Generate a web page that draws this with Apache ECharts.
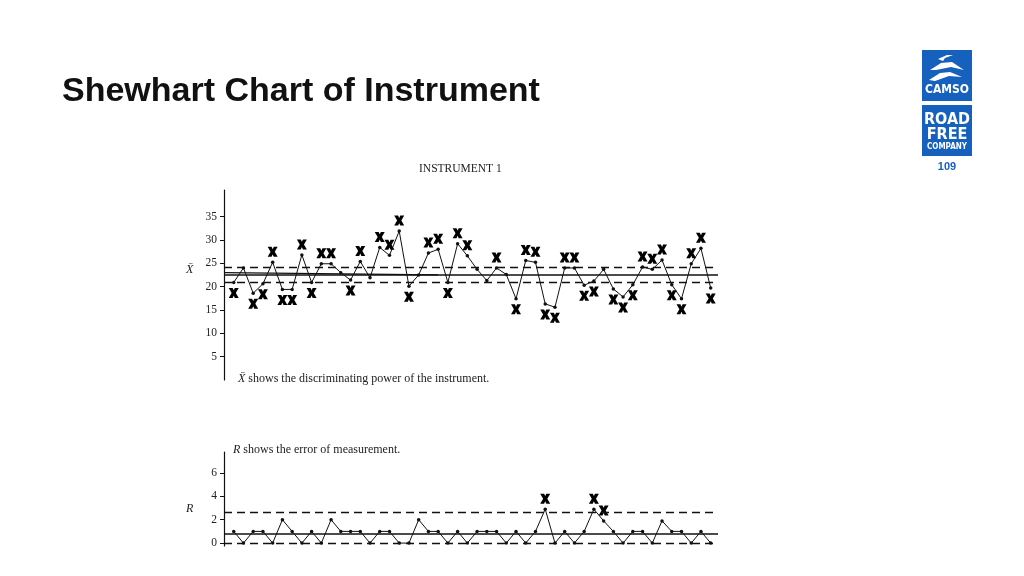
<!DOCTYPE html>
<html>
<head>
<meta charset="utf-8">
<style>
html,body{margin:0;padding:0;background:#fff;}
#chart{width:1024px;height:576px;}
</style>
<script src="https://cdn.jsdelivr.net/npm/echarts@6/dist/echarts.min.js"></script>
</head>
<body>
<div id="chart"></div>
<script>
// ---- data ----
const xbarValues = [20.9, 24.0, 18.6, 20.6, 25.2, 19.4, 19.4, 26.8, 20.9, 24.9,
  24.9, 23.0, 21.4, 25.4, 21.9, 28.4, 26.7, 31.9, 20.1, 22.5,
  27.2, 28.0, 20.9, 29.2, 26.6, 23.7, 21.3, 24.0, 22.6, 17.4,
  25.6, 25.2, 16.3, 15.6, 24.0, 24.0, 20.3, 21.2, 23.7, 19.5,
  17.8, 20.4, 24.2, 23.7, 25.7, 20.4, 17.4, 24.9, 28.2, 19.7];
const xbarFlags = ['d','','d','d','u','d','d','u','d','u',
  'u','','d','u','','u','u','u','d','',
  'u','u','d','u','u','','','u','','d',
  'u','u','d','d','u','u','d','d','','d',
  'd','d','u','u','u','d','d','u','u','d'];
const xbarLimits = {ucl: 24.1, cl: 22.5, lcl: 21.0};
const xbarCenterOld = [23.0, 22.5]; // short slanted centre line at the left
const xbarTicks = [5, 10, 15, 20, 25, 30, 35];

const rValues = [1,0,1,1,0,2,1,0,1,0,2,1,1,1,0,1,1,0,0,2,1,1,0,1,
  0,1,1,1,0,1,0,1,2.9,0,1,0,1,2.9,1.9,1,0,1,1,0,1.9,1,1,0,1,0];
const rFlags = rValues.map((v,i)=> (i===32||i===37||i===38) ? 'u' : '');
const rLimits = {ucl: 2.65, cl: 0.8, lcl: 0};
const rTicks = [0, 2, 4, 6];

// ---- styles ----
const INK = '#111';
const SERIF = "'Liberation Serif','DejaVu Serif',serif";
const BLUE = '#1561bd';
const XPATH = 'path://M0,0 L3.9,0 L5,2.4 L6.1,0 L10,0 L7.1,5 L10,10 L6.1,10 L5,7.6 L3.9,10 L0,10 L2.9,5 Z';

function lineData(vals){ return vals.map((v,i)=>[i+1, v]); }
function flagData(vals, flags){
  const out = [];
  vals.forEach((v,i)=>{
    if (flags[i]) out.push({value:[i+1, v], symbolOffset:[0, flags[i]==='u' ? -10.5 : 10.5]});
  });
  return out;
}
function limitLines(lim, extra){
  const dashed = {type:[8,5], width:1.4, color:INK};
  const solid = {type:'solid', width:1.6, color:INK};
  const d = [
    {yAxis: lim.ucl, lineStyle: dashed},
    {yAxis: lim.cl, lineStyle: solid},
    {yAxis: lim.lcl, lineStyle: dashed}
  ];
  if (extra) d.push(extra);
  return {silent:true, symbol:'none', label:{show:false}, animation:false, data:d};
}

const chart = echarts.init(document.getElementById('chart'), null, {renderer:'canvas'});
const option = {
  animation: false,
  backgroundColor: '#fff',
  grid: [
    {left:224, right:306, top:190, height:190},
    {left:224, right:306, top:452, height:94}
  ],
  xAxis: [
    {type:'value', gridIndex:0, min:0, max:50.75, show:false},
    {type:'value', gridIndex:1, min:0, max:50.75, show:false}
  ],
  yAxis: [
    {type:'value', gridIndex:0, min:0, max:40.7,
      axisLine:{show:true, lineStyle:{color:INK, width:1.2}},
      axisTick:{show:true, length:4, customValues: xbarTicks, lineStyle:{color:INK}},
      axisLabel:{customValues: xbarTicks, color:'#222', fontFamily:SERIF, fontSize:11.5, margin:7},
      splitLine:{show:false}},
    {type:'value', gridIndex:1, min:-0.25, max:7.8,
      axisLine:{show:true, lineStyle:{color:INK, width:1.2}},
      axisTick:{show:true, length:4, customValues: rTicks, lineStyle:{color:INK}},
      axisLabel:{customValues: rTicks, color:'#222', fontFamily:SERIF, fontSize:11.5, margin:7},
      splitLine:{show:false}}
  ],
  series: [
    {type:'line', xAxisIndex:0, yAxisIndex:0, data: lineData(xbarValues),
      symbol:'circle', symbolSize:3.5, lineStyle:{color:INK, width:1}, itemStyle:{color:INK},
      markLine: limitLines(xbarLimits, [{coord:[0, xbarCenterOld[0]], lineStyle:{type:'solid', width:1.2, color:INK}}, {coord:[22, xbarCenterOld[1]]}]),
      z:3},
    {type:'scatter', xAxisIndex:0, yAxisIndex:0, data: flagData(xbarValues, xbarFlags),
      symbol: XPATH, symbolSize:[10,10], itemStyle:{color:'#000', opacity:1}, z:4},
    {type:'line', xAxisIndex:1, yAxisIndex:1, data: lineData(rValues),
      symbol:'circle', symbolSize:3.5, lineStyle:{color:INK, width:1}, itemStyle:{color:INK},
      markLine: limitLines(rLimits), z:3},
    {type:'scatter', xAxisIndex:1, yAxisIndex:1, data: flagData(rValues, rFlags),
      symbol: XPATH, symbolSize:[10,10], itemStyle:{color:'#000', opacity:1}, z:4}
  ],
  graphic: [
    {type:'text', left:62, top:75, style:{text:'Shewhart Chart of Instrument', fill:'#111',
      font:"bold 34px 'Liberation Sans', Arial, sans-serif"}},
    {type:'text', left:419, top:163, style:{text:'INSTRUMENT 1', fill:'#222',
      font:"11.5px " + SERIF}},
    {type:'text', left:186, top:264, style:{text:'X\u0304', fill:'#222', font:"italic 12px " + SERIF}},
    {type:'text', left:186, top:503, style:{text:'R', fill:'#222', font:"italic 12px " + SERIF}},
    {type:'text', left:238, top:373, style:{rich:{i:{fontStyle:'italic', fontFamily:SERIF, fontSize:12, fill:'#222'}, n:{fontFamily:SERIF, fontSize:12, fill:'#222'}},
      text:'{i|X\u0304}{n| shows the discriminating power of the instrument.}'}},
    {type:'text', left:233, top:444, style:{rich:{i:{fontStyle:'italic', fontFamily:SERIF, fontSize:12, fill:'#222'}, n:{fontFamily:SERIF, fontSize:12, fill:'#222'}},
      text:'{i|R}{n| shows the error of measurement.}'}},
    // logo
    {type:'rect', shape:{x:922, y:50, width:50, height:51}, style:{fill:BLUE}},
    {type:'rect', shape:{x:922, y:105, width:50, height:51}, style:{fill:BLUE}},
    {type:'polygon', shape:{points:[[938,59],[947,55],[953,55],[945,58],[943,61]]}, style:{fill:'#fff'}},
    {type:'polygon', shape:{points:[[930,70],[941,63],[952,62],[964,70],[951,67],[936,70]]}, style:{fill:'#fff'}},
    {type:'polygon', shape:{points:[[929,80],[940,73],[950,72],[962,77],[949,76],[935,81]]}, style:{fill:'#fff'}},
    {type:'text', x:947, y:90, style:{text:'CAMSO', fill:'#fff', align:'center', verticalAlign:'middle',
      font:"bold 12px 'Liberation Sans Narrow','DejaVu Sans Condensed',sans-serif"}},
    {type:'text', x:947, y:120, style:{text:'ROAD', fill:'#fff', align:'center', verticalAlign:'middle',
      font:"bold 16px 'Liberation Sans Narrow','DejaVu Sans Condensed',sans-serif"}},
    {type:'text', x:947, y:135, style:{text:'FREE', fill:'#fff', align:'center', verticalAlign:'middle',
      font:"bold 16px 'Liberation Sans Narrow','DejaVu Sans Condensed',sans-serif"}},
    {type:'text', x:947, y:147, style:{text:'COMPANY', fill:'#fff', align:'center', verticalAlign:'middle',
      font:"bold 8px 'Liberation Sans Narrow','DejaVu Sans Condensed',sans-serif"}},
    {type:'text', x:947, y:167, style:{text:'109', fill:BLUE, align:'center', verticalAlign:'middle',
      font:"bold 11px 'Liberation Sans',Arial,sans-serif"}}
  ]
};
chart.setOption(option);
</script>
</body>
</html>
